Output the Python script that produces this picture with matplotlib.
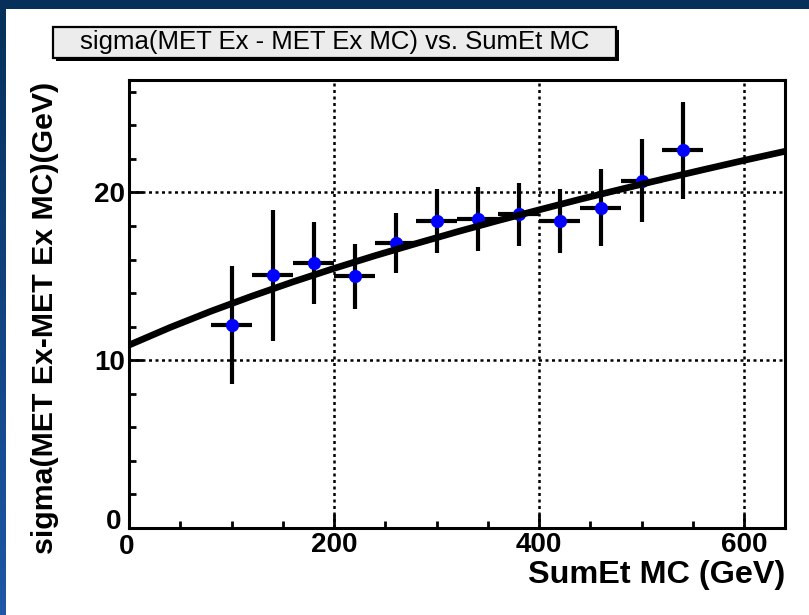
"""Resolution of MET Ex versus SumEt MC, ROOT-style slide figure."""

import matplotlib

matplotlib.use("Agg")

import matplotlib.pyplot as plt
import numpy as np
from matplotlib.patches import Rectangle
from matplotlib.ticker import FuncFormatter, MultipleLocator

plt.rcParams["font.family"] = ["Liberation Sans", "DejaVu Sans"]

# bin centres (GeV), half bin width, fitted sigma and its error
sumet = [100, 140, 180, 220, 260, 300, 340, 380, 420, 460, 500, 540]
half_width = [20, 20, 20, 20, 20, 20, 20, 20, 20, 20, 20, 20]
sigma = [12.1, 15.05, 15.8, 15.0, 17.0, 18.3, 18.4, 18.7, 18.3, 19.1, 20.7, 22.5]
sigma_err = [3.5, 3.9, 2.45, 1.92, 1.8, 1.93, 1.9, 1.87, 1.93, 2.27, 2.47, 2.9]

# fit curve
fit_x = [0, 40, 80, 120, 160, 200, 240, 280, 320, 360, 400, 440, 480, 520, 560, 600, 640]
fit_y = [10.9, 11.95, 12.92, 13.82, 14.67, 15.47, 16.23, 16.95, 17.65, 18.32,
         18.96, 19.59, 20.19, 20.78, 21.35, 21.91, 22.45]

W, H = 809, 615
fig = plt.figure(figsize=(W / 100, H / 100), dpi=100)

# slide background: blue gradient with the white canvas on top
bg = fig.add_axes([0, 0, 1, 1], zorder=-10)
grad = np.linspace(0, 1, 64).reshape(-1, 1)
cmap = matplotlib.colors.LinearSegmentedColormap.from_list("slide", ["#06305a", "#1d57a6"])
bg.imshow(grad, aspect="auto", cmap=cmap, extent=[0, 1, 0, 1], origin="upper")
bg.set_axis_off()
fig.patches.append(Rectangle((6 / W, 0), 1, (H - 9) / H, transform=fig.transFigure,
                             facecolor="white", edgecolor="none", zorder=-5))

# title box with shadow
bx0, bx1, by0, by1 = 53, 616, 27, 58
fig.patches.append(Rectangle(((bx0 + 3) / W, 1 - (by1 + 3) / H), (bx1 - bx0) / W, (by1 - by0) / H,
                             transform=fig.transFigure, facecolor="black", edgecolor="none", zorder=1))
fig.patches.append(Rectangle((bx0 / W, 1 - by1 / H), (bx1 - bx0) / W, (by1 - by0) / H,
                             transform=fig.transFigure, facecolor="#ececec", edgecolor="black",
                             linewidth=1.6, zorder=2))
fig.text((bx0 + bx1) / 2 / W, 1 - (by0 + by1) / 2 / H, "sigma(MET Ex - MET Ex MC) vs. SumEt MC",
         ha="center", va="center", fontsize=18.5, zorder=3)

ax = fig.add_axes([129 / W, 1 - 528 / H, (785 - 129) / W, (528 - 80) / H])
ax.set_facecolor("white")

ax.errorbar(sumet, sigma, xerr=half_width, yerr=sigma_err, fmt="o", color="#0000ff",
            markersize=8.5, ecolor="black", elinewidth=3, capsize=0, zorder=3)
ax.plot(fit_x, fit_y, color="black", linewidth=4.8, solid_capstyle="butt", zorder=4)

ax.set_xlim(0, 640)
ax.set_ylim(0, 26.7)
ax.xaxis.set_major_locator(MultipleLocator(200))
ax.xaxis.set_minor_locator(MultipleLocator(50))
ax.yaxis.set_major_locator(MultipleLocator(10))
ax.yaxis.set_minor_locator(MultipleLocator(2))

# the two zero labels are placed by hand below, ROOT-style (offset from the corner)
no_zero = FuncFormatter(lambda v, pos: "" if abs(v) < 1e-9 else f"{v:.0f}")
ax.xaxis.set_major_formatter(no_zero)
ax.yaxis.set_major_formatter(no_zero)

ax.tick_params(which="both", direction="in", top=False, right=False, width=2,
               labelsize=20, pad=3)
ax.tick_params(which="major", length=10)
ax.tick_params(which="minor", length=5)
for lab in ax.get_xticklabels() + ax.get_yticklabels():
    lab.set_fontweight("bold")
for sp in ax.spines.values():
    sp.set_linewidth(2.2)
ax.grid(True, which="major", color="black", linestyle=(0, (1.2, 1.4)), linewidth=1.8)
ax.set_axisbelow(True)

ax.annotate("0", xy=(0, 0), xycoords="axes fraction", xytext=(-8, 6),
            textcoords="offset pixels", ha="right", va="center",
            fontsize=20, fontweight="bold")
ax.annotate("0", xy=(0, 0), xycoords="axes fraction", xytext=(-2, -6),
            textcoords="offset pixels", ha="center", va="top",
            fontsize=20, fontweight="bold")

fig.text(785 / W, 1 - 583 / H, "SumEt MC (GeV)", ha="right", va="baseline",
         fontsize=23.3, fontweight="bold")
fig.text(45 / W, 1 - 82 / H, "sigma(MET Ex-MET Ex MC)(GeV)", ha="center", va="top",
         rotation=90, fontsize=21.8, fontweight="bold")

fig.savefig("out.png", dpi=100)
